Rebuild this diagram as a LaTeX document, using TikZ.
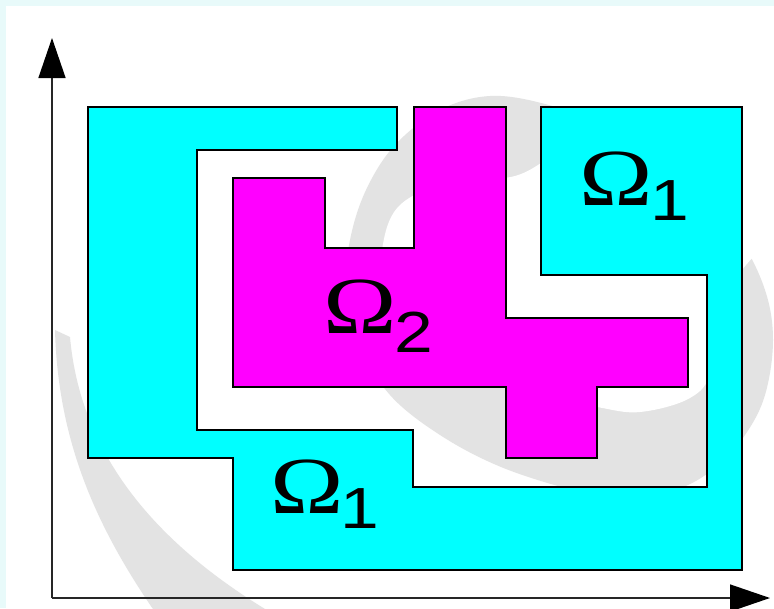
\documentclass[tikz,border=0pt]{standalone}
\usepackage{fontspec}
\setmainfont{Liberation Serif}
\newfontfamily\digfont{Liberation Sans}
\usetikzlibrary{arrows.meta}
\definecolor{framecol}{RGB}{232,250,250}
\definecolor{wm}{RGB}{227,227,227}
\definecolor{cy}{RGB}{0,255,255}
\definecolor{mg}{RGB}{255,0,255}
\begin{document}
\begin{tikzpicture}[x=1pt,y=-1pt,
  region/.style={draw=black, line width=2.6pt, line join=miter},
  omega/.style={inner sep=0pt, anchor=base, font=\fontsize{81}{81}\selectfont},
  digit/.style={inner sep=0pt, anchor=base, font=\digfont\fontsize{58}{58}\selectfont},
  axis/.style={draw=black!85, line width=1.4pt, -{Triangle[length=40pt,width=27pt,color=black,fill=black]}}]
\useasboundingbox (0,0) rectangle (774,608);
\fill[framecol] (0,0) rectangle (774,608);
\fill[white] (6,6) rectangle (780,615);
% watermark
\fill[wm] plot[smooth cycle, tension=0.6] coordinates {(490,96) (545,104) (600,125) (650,160) (700,200) (740,240) (765,290) (773,340) (765,395) (745,435) (715,468) (675,490) (620,497) (573,490) (501,467) (440,435) (390,395) (360,345) (346,290) (350,240) (366,190) (395,145) (440,110)};
\fill[white] plot[smooth cycle, tension=0.6] coordinates {(385,300) (382,250) (400,205) (455,180) (515,176) (560,150) (620,110) (700,80) (790,130) (800,220) (755,255) (725,300) (712,370) (690,398) (640,412) (597,407) (540,395) (470,370) (415,335)};
\fill[wm] (55,330) -- (70,337) .. controls (80,450) and (150,540) .. (270,612) -- (155,612) .. controls (95,525) and (58,440) .. cycle;
% axes
\coordinate (O) at (52,598);
\coordinate (Ytip) at (52,38);
\coordinate (Xtip) at (770,598);
\draw[axis] (O) -- (Ytip);
\draw[axis] (O) -- (Xtip);
% regions
\draw[region, fill=cy] (88,107) -- (397,107) -- (397,150) -- (197,150) -- (197,430) -- (413,430) -- (413,487) -- (707,487) -- (707,275) -- (541,275) -- (541,107) -- (742,107) -- (742,570) -- (233,570) -- (233,458) -- (88,458) -- cycle;
\draw[region, fill=mg] (233,178) -- (325,178) -- (325,248) -- (414,248) -- (414,107) -- (506,107) -- (506,318) -- (688,318) -- (688,387) -- (597,387) -- (597,458) -- (506,458) -- (506,387) -- (233,387) -- cycle;
% labels
\node[omega] (om1a) at (616,205) {\scalebox{1.22}[1]{Ω}};
\node[digit] (d1a) at (670,220) {\scalebox{1.2}[1]{1}};
\node[omega] (om2) at (360,333) {\scalebox{1.22}[1]{Ω}};
\node[digit] (d2) at (414,352) {\scalebox{1.2}[1]{2}};
\node[omega] (om1b) at (307,513) {\scalebox{1.22}[1]{Ω}};
\node[digit] (d1b) at (360,528) {\scalebox{1.2}[1]{1}};
\end{tikzpicture}
\end{document}
